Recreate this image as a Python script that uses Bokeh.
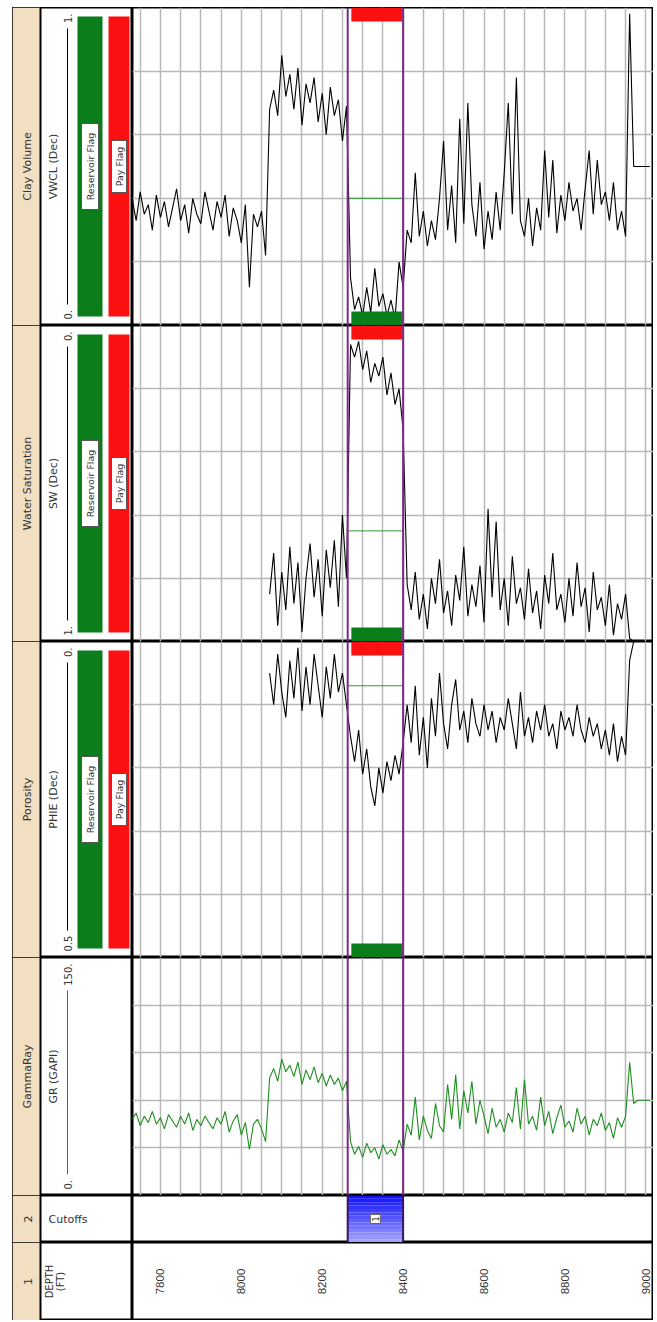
import math
from bokeh.plotting import figure
from bokeh.layouts import gridplot, row, column
from bokeh.models import Range1d, FixedTicker, SingleIntervalTicker, Span, Spacer
from bokeh.core.properties import value
from bokeh.embed import file_html
from bokeh.resources import INLINE

nan = float("nan")

# ---------------- data ----------------
DEPTH = list(range(7730, 9011, 10))

GR = [48, 52, 44, 50, 46, 53, 45, 49, 42, 51,
      47, 43, 50, 45, 52, 41, 48, 44, 50, 46,
      42, 49, 45, 53, 40, 47, 51, 38, 46, 29,
      45, 48, 42, 34, 74, 80, 72, 86, 78, 82,
      75, 84, 70, 79, 73, 81, 71, 77, 69, 76,
      70, 74, 66, 72, 34, 26, 31, 24, 33, 27,
      30, 23, 32, 26, 29, 25, 35, 28, 45, 38,
      62, 35, 50, 41, 36, 58, 44, 40, 70, 48,
      76, 42, 66, 52, 72, 45, 60, 50, 39, 55,
      43, 48, 40, 52, 46, 68, 42, 73, 45, 50,
      41, 62, 44, 53, 39, 49, 57, 43, 47, 40,
      55, 45, 50, 38, 48, 44, 52, 41, 46, 36,
      49, 43, 50, 84, 58, 60, 60, 60, 60]

VWCL = [0.40, 0.33, 0.42, 0.35, 0.38, 0.30, 0.41, 0.34, 0.39, 0.31,
        0.37, 0.43, 0.33, 0.38, 0.29, 0.40, 0.35, 0.32, 0.42, 0.36,
        0.30, 0.39, 0.34, 0.41, 0.28, 0.37, 0.33, 0.26, 0.38, 0.12,
        0.35, 0.31, 0.36, 0.22, 0.68, 0.74, 0.66, 0.85, 0.72, 0.79,
        0.68, 0.81, 0.63, 0.76, 0.70, 0.78, 0.64, 0.73, 0.60, 0.75,
        0.66, 0.71, 0.58, 0.69, 0.15, 0.05, 0.09, 0.03, 0.12, 0.04,
        0.18, 0.06, 0.10, 0.03, 0.08, 0.02, 0.20, 0.12,
        0.30, 0.26, 0.48, 0.28, 0.36, 0.25, 0.33, 0.27, 0.40, 0.58,
        0.30, 0.44, 0.26, 0.65, 0.32, 0.70, 0.38, 0.28, 0.45, 0.24,
        0.36, 0.27, 0.42, 0.30, 0.48, 0.70, 0.35, 0.78, 0.33, 0.28,
        0.40, 0.25, 0.37, 0.30, 0.55, 0.34, 0.52, 0.29, 0.41, 0.33,
        0.45, 0.36, 0.40, 0.30, 0.43, 0.55, 0.35, 0.52, 0.38, 0.42,
        0.33, 0.45, 0.30, 0.36, 0.28, 0.98,
        0.50, 0.50, 0.50, 0.50, 0.50]

SW = [nan] * 34 + [
    0.85, 0.72, 0.95, 0.78, 0.90, 0.70, 0.88, 0.75, 0.97, 0.80,
    0.69, 0.86, 0.74, 0.92, 0.71, 0.83, 0.68, 0.89, 0.60, 0.80,
    0.06, 0.10, 0.05, 0.14, 0.08, 0.18, 0.12, 0.16, 0.10, 0.22,
    0.15, 0.25, 0.20, 0.33,
    0.82, 0.90, 0.78, 0.93, 0.85, 0.96, 0.80, 0.88, 0.74, 0.91,
    0.84, 0.95, 0.79, 0.87, 0.70, 0.92, 0.82, 0.89, 0.76, 0.94,
    0.58, 0.86, 0.62, 0.90, 0.80, 0.95, 0.73, 0.88, 0.83, 0.93,
    0.77, 0.91, 0.84, 0.96, 0.79, 0.88, 0.72, 0.90, 0.85, 0.94,
    0.80, 0.92, 0.75, 0.89, 0.83, 0.97, 0.78, 0.90, 0.86, 0.95,
    0.82, 0.98, 0.88, 0.93, 0.85, 0.99, 1.00] + [nan] * 4

PHIE = [nan] * 34 + [
    0.05, 0.10, 0.02, 0.08, 0.12, 0.03, 0.09, 0.01, 0.11, 0.04,
    0.10, 0.02, 0.07, 0.12, 0.04, 0.09, 0.02, 0.08, 0.05, 0.10,
    0.15, 0.19, 0.14, 0.21, 0.17, 0.23, 0.26, 0.20, 0.24, 0.19,
    0.22, 0.18, 0.21, 0.16, 0.10, 0.16, 0.07, 0.18, 0.12, 0.20,
    0.09, 0.15, 0.05, 0.13, 0.17, 0.10, 0.06, 0.14, 0.11, 0.16,
    0.09, 0.13, 0.15, 0.10, 0.14, 0.11, 0.16, 0.12, 0.14, 0.09,
    0.13, 0.17, 0.08, 0.15, 0.12, 0.16, 0.11, 0.14, 0.10, 0.15,
    0.13, 0.17, 0.11, 0.14, 0.12, 0.15, 0.10, 0.14, 0.16, 0.12,
    0.15, 0.13, 0.17, 0.14, 0.18, 0.13, 0.19, 0.15, 0.18, 0.03,
    0.00] + [nan] * 4

DEPTH_LABELS = [7800, 8000, 8200, 8400, 8600, 8800, 9000]
ZONE_TOP, ZONE_BASE = 8263, 8400
ZONE_NAME = "1"
RES_FLAG = (8272, 8398)
PAY_FLAG = (8272, 8398)
VWCL_CUT, SW_CUT, PHIE_CUT = 0.40, 0.65, 0.07

# ---------------- styling / layout ----------------
HW, TW = 120, 521
H_CLAY, H_SW, H_PHI, H_GR, H_CUT, H_DEP = 318, 316, 316, 238, 47, 78
XR = Range1d(7731, 9019)
FONT = value("DejaVu Sans")
BEIGE = "#f2dfc2"
GRID = "#b8b8b8"
PURPLE = "#7b2a86"
FLAG_GREEN = "#0b7d1b"
FLAG_RED = "#fa1010"
CURVE_GREEN = "#1f8f1f"
TXT = "#333333"
UP = math.pi / 2


def base_fig(w, h, xr, yr):
    p = figure(width=w, height=h, x_range=xr, y_range=yr, output_backend="svg",
               toolbar_location=None, tools="", min_border=0)
    p.xaxis.visible = False
    p.yaxis.visible = False
    p.xgrid.visible = False
    p.ygrid.visible = False
    p.outline_line_color = "black"
    p.outline_line_width = 2
    p.background_fill_color = "white"
    p.border_fill_color = "white"
    return p


def track(h, yr, yticks, curve, color, cut, flags=True):
    p = base_fig(TW, h, XR, yr)
    p.xgrid.visible = True
    p.ygrid.visible = True
    p.xgrid.ticker = SingleIntervalTicker(interval=50)
    p.ygrid.ticker = FixedTicker(ticks=yticks)
    for g in (p.xgrid, p.ygrid):
        g.grid_line_color = GRID
        g.grid_line_width = 1.5
    if cut is not None:
        p.segment(x0=[ZONE_TOP], y0=[cut], x1=[ZONE_BASE], y1=[cut],
                  line_color="#2e9a2e", line_width=1)
    p.line(DEPTH, curve, line_color=color, line_width=1.1)
    if flags:
        top_v, bot_v = yr.end, yr.start
        d = (top_v - bot_v) * 14.0 / h
        p.quad(left=[PAY_FLAG[0]], right=[PAY_FLAG[1]], top=[top_v], bottom=[top_v - d],
               fill_color=FLAG_RED, line_color=None)
        p.quad(left=[RES_FLAG[0]], right=[RES_FLAG[1]], top=[bot_v + d], bottom=[bot_v],
               fill_color=FLAG_GREEN, line_color=None)
    for loc in (ZONE_TOP, ZONE_BASE):
        p.add_layout(Span(location=loc, dimension="height", line_color=PURPLE, line_width=2))
    return p


def rot_text(p, x, y, s, size="11px", align="center", color=TXT, font=FONT):
    p.text(x=[x], y=[y], text=[s], angle=UP, text_font=font, text_font_size=size,
           text_align=align, text_baseline="middle", text_color=color)


def header(h, title, curve_name=None, lab_bot=None, lab_top=None, scale_color="black", flags=True):
    p = base_fig(HW, h, Range1d(0, HW), Range1d(0, h))
    p.quad(left=[0], right=[28], bottom=[0], top=[h], fill_color=BEIGE, line_color=None)
    p.segment(x0=[28], y0=[0], x1=[28], y1=[h], line_color="black", line_width=2)
    rot_text(p, 15, h / 2, title)
    if curve_name:
        rot_text(p, 41, h / 2, curve_name)
        y0 = 6 + 6 * len(lab_bot) + 3
        y1 = h - (6 + 6 * len(lab_top) + 3)
        p.segment(x0=[55], y0=[y0], x1=[55], y1=[y1], line_color=scale_color, line_width=1)
        rot_text(p, 55, 6, lab_bot, size="10px", align="left")
        rot_text(p, 55, h - 6, lab_top, size="10px", align="right")
    if flags:
        p.quad(left=[65], right=[90], bottom=[9], top=[h - 9], fill_color=FLAG_GREEN, line_color=None)
        p.quad(left=[96], right=[117], bottom=[9], top=[h - 9], fill_color=FLAG_RED, line_color=None)
        p.rect(x=[77.5], y=[h / 2], width=17, height=86, fill_color="white",
               line_color="#555555", line_width=1)
        p.rect(x=[106.5], y=[h / 2], width=15, height=52, fill_color="white",
               line_color="#555555", line_width=1)
        rot_text(p, 78, h / 2, "Reservoir Flag", size="9.5px")
        rot_text(p, 107, h / 2, "Pay Flag", size="9.5px")
    return p


# ---------------- tracks ----------------
h_clay = header(H_CLAY, "Clay Volume", "VWCL (Dec)", "0.", "1.")
t_clay = track(H_CLAY, Range1d(0, 1), [0.2, 0.4, 0.6, 0.8], VWCL, "black", VWCL_CUT)

h_sw = header(H_SW, "Water Saturation", "SW (Dec)", "1.", "0.")
t_sw = track(H_SW, Range1d(1, 0), [0.2, 0.4, 0.6, 0.8], SW, "black", SW_CUT)

h_phi = header(H_PHI, "Porosity", "PHIE (Dec)", "0.5", "0.")
t_phi = track(H_PHI, Range1d(0.5, 0), [0.1, 0.2, 0.3, 0.4], PHIE, "black", PHIE_CUT)

h_gr = header(H_GR, "GammaRay", "GR (GAPI)", "0.", "150.", scale_color=CURVE_GREEN, flags=False)
t_gr = track(H_GR, Range1d(0, 150), [30, 60, 90, 120], GR, CURVE_GREEN, None, flags=False)

# cutoffs
h_cut = base_fig(HW, H_CUT, Range1d(0, HW), Range1d(0, H_CUT))
h_cut.quad(left=[0], right=[28], bottom=[0], top=[H_CUT], fill_color=BEIGE, line_color=None)
h_cut.segment(x0=[28], y0=[0], x1=[28], y1=[H_CUT], line_color="black", line_width=2)
rot_text(h_cut, 15, H_CUT / 2, "2")
h_cut.text(x=[36], y=[H_CUT / 2], text=["Cutoffs"], text_font=FONT, text_font_size="11px",
           text_align="left", text_baseline="middle", text_color=TXT)

t_cut = base_fig(TW, H_CUT, XR, Range1d(0, 1))
N = 14
bands_b = [i / N for i in range(N)]
bands_t = [(i + 1) / N for i in range(N)]
cols = []
for i in range(N):
    f = i / (N - 1)  # 0 bottom -> 1 top
    c = int(160 - 140 * f)
    cols.append("#%02x%02xff" % (c, c))
t_cut.quad(left=ZONE_TOP, right=ZONE_BASE, bottom=bands_b, top=bands_t, fill_color=cols, line_color=None)
for loc in (ZONE_TOP, ZONE_BASE):
    t_cut.add_layout(Span(location=loc, dimension="height", line_color="#3a1560", line_width=2))
t_cut.rect(x=[(ZONE_TOP + ZONE_BASE) / 2], y=[0.5], width=10, height=9, width_units="screen",
           height_units="screen", fill_color="white", line_color="#666666", line_width=1)
rot_text(t_cut, (ZONE_TOP + ZONE_BASE) / 2, 0.5, ZONE_NAME, size="8px", color="#222222")

# depth
h_dep = base_fig(HW, H_DEP, Range1d(0, HW), Range1d(0, H_DEP))
h_dep.quad(left=[0], right=[28], bottom=[0], top=[H_DEP], fill_color=BEIGE, line_color=None)
h_dep.segment(x0=[28], y0=[0], x1=[28], y1=[H_DEP], line_color="black", line_width=2)
rot_text(h_dep, 15, H_DEP / 2, "1")
rot_text(h_dep, 37, H_DEP / 2, "DEPTH", size="10px")
rot_text(h_dep, 48, H_DEP / 2, "(FT)", size="10px")

t_dep = base_fig(TW, H_DEP, XR, Range1d(0, 1))
t_dep.text(x=DEPTH_LABELS, y=[0.5] * len(DEPTH_LABELS), text=[str(d) for d in DEPTH_LABELS],
           angle=UP, text_font=value("Liberation Sans"), text_font_size="11.5px",
           text_align="center", text_baseline="middle", text_color="#333333")

gp = gridplot([[h_clay, t_clay], [h_sw, t_sw], [h_phi, t_phi], [h_gr, t_gr],
               [h_cut, t_cut], [h_dep, t_dep]], toolbar_location=None)
layout = column(Spacer(width=10, height=7), row(Spacer(width=12, height=10), gp))

open("out.html", "w").write(file_html(layout, INLINE))
